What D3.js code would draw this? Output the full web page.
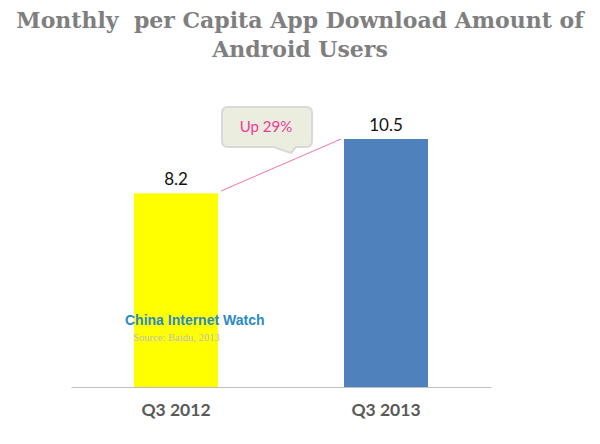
<!DOCTYPE html>
<html>
<head>
<meta charset="utf-8">
<script src="https://d3js.org/d3.v7.min.js"></script>
<style>
  html, body { margin: 0; padding: 0; background: #fff; }
  svg { display: block; }
</style>
</head>
<body>
<div id="chart"></div>
<script>
// data
var quarters = ['Q3 2012', 'Q3 2013'];
var downloads = [8.2, 10.5];
var barColors = ['#ffff00', '#4f81bd'];
var titleLines = ['Monthly  per Capita App Download Amount of', 'Android Users'];

var width = 600, height = 444;
var baseY = 387;

var svg = d3.select('#chart').append('svg')
  .attr('width', width)
  .attr('height', height);

var x = d3.scaleBand().domain(quarters).range([71, 491]).paddingInner(0.6).paddingOuter(0.3);
var y = d3.scaleLinear().domain([0, 10.5]).range([baseY, 139]);

// title
svg.selectAll('.title')
  .data(titleLines)
  .enter().append('text')
  .attr('class', 'title')
  .attr('x', 300)
  .attr('y', function(d, i) { return 28 + i * 29; })
  .attr('text-anchor', 'middle')
  .attr('font-family', 'DejaVu Serif')
  .attr('font-weight', 'bold')
  .attr('font-size', 22)
  .attr('fill', '#7f7f7f')
  .style('white-space', 'pre')
  .text(function(d) { return d; });

// bars
svg.selectAll('.bar')
  .data(downloads)
  .enter().append('rect')
  .attr('class', 'bar')
  .attr('x', function(d, i) { return x(quarters[i]); })
  .attr('y', function(d) { return y(d); })
  .attr('width', x.bandwidth())
  .attr('height', function(d) { return baseY - y(d); })
  .attr('fill', function(d, i) { return barColors[i]; });

// value labels
svg.selectAll('.value')
  .data(downloads)
  .enter().append('text')
  .attr('class', 'value')
  .attr('x', function(d, i) { return x(quarters[i]) + x.bandwidth() / 2; })
  .attr('y', function(d) { return y(d) - 8; })
  .attr('text-anchor', 'middle')
  .attr('font-family', 'Lato')
  .attr('font-size', 17)
  .attr('fill', '#111')
  .text(function(d) { return d; });

// axis line and labels
var axis = svg.append('g')
  .attr('transform', 'translate(0,' + baseY + ')')
  .call(d3.axisBottom(x).tickSize(0).tickPadding(17));
axis.select('.domain').attr('stroke', '#bfbfbf').attr('stroke-width', 1);
axis.selectAll('text')
  .attr('font-family', 'Lato')
  .attr('font-weight', 'bold')
  .attr('font-size', 17.5)
  .attr('fill', '#595959');

// connector between the bars
svg.append('line')
  .attr('x1', 221).attr('y1', 191)
  .attr('x2', 341).attr('y2', 139)
  .attr('stroke', '#f472a8')
  .attr('stroke-width', 1);

// callout
svg.append('path')
  .attr('d', 'M228,107 H306 Q312,107 312,113 V141 Q312,147 306,147 H296 L291,153 L274,147 H228 Q222,147 222,141 V113 Q222,107 228,107 Z')
  .attr('fill', '#ebeddf')
  .attr('stroke', '#d9d9d9')
  .attr('stroke-width', 2);

svg.append('text')
  .attr('x', 266)
  .attr('y', 132)
  .attr('text-anchor', 'middle')
  .attr('font-family', 'Lato')
  .attr('font-size', 15)
  .attr('fill', '#f0399a')
  .text('Up 29%');

// watermark
svg.append('text')
  .attr('x', 125)
  .attr('y', 325)
  .attr('font-family', 'Liberation Sans')
  .attr('font-weight', 'bold')
  .attr('font-size', 14)
  .attr('fill', '#2a8ac6')
  .style('white-space', 'pre')
  .text('China Internet Watch');

svg.append('text')
  .attr('x', 133)
  .attr('y', 341)
  .attr('font-family', 'Liberation Serif')
  .attr('font-size', 10.6)
  .attr('fill', '#bdbdbd')
  .text('Source: Baidu, 2013');
</script>
</body>
</html>
